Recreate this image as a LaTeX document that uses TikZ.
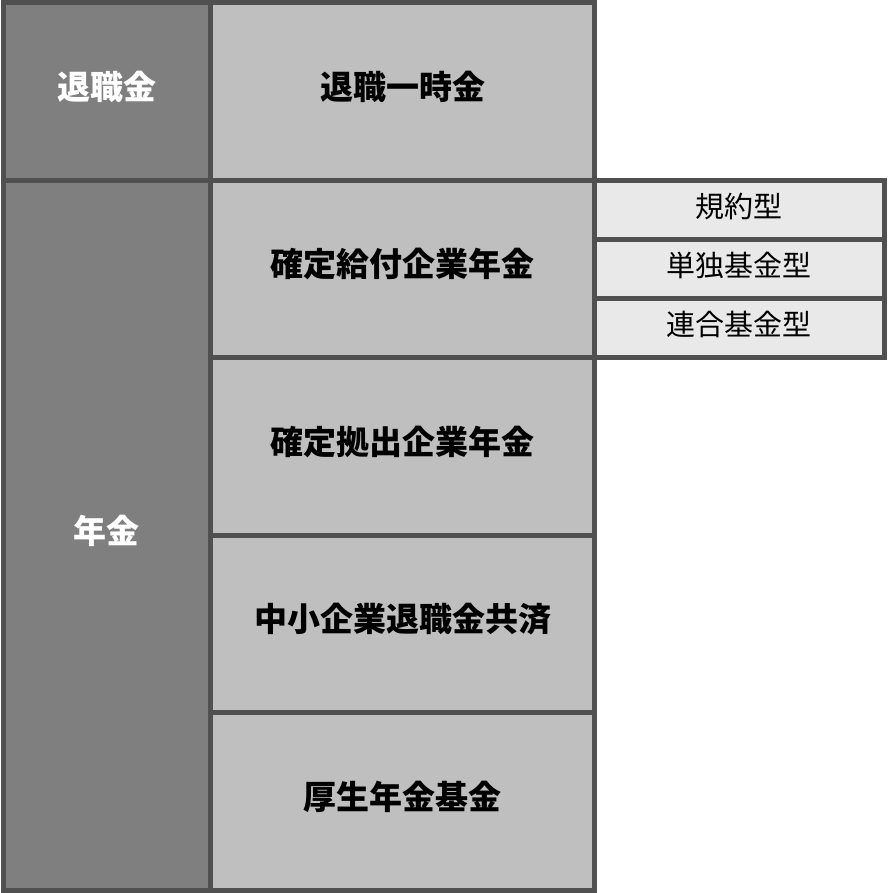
\documentclass[tikz,border=0pt]{standalone}
\usepackage{fontspec}
\usepackage{xcolor}
\usepackage{tikz}
\newfontfamily\jpfont{Noto Sans CJK JP}
\definecolor{edgegray}{HTML}{505050}
\definecolor{darkfill}{HTML}{7F7F7F}
\definecolor{midfill}{HTML}{BFBFBF}
\definecolor{lightfill}{HTML}{E9E9E9}

\begin{document}
\begin{tikzpicture}[x=1pt, y=-1pt,
    cell/.style={rectangle, draw=edgegray, line width=5pt, inner sep=0pt, outer sep=0pt, text height=15.5pt, text depth=0pt},
    kind/.style={cell, fill=darkfill, text=white, minimum width=207.5pt, font=\jpfont\bfseries\fontsize{33}{38}\selectfont},
    plan/.style={cell, fill=midfill, minimum width=384pt, minimum height=177.4pt, font=\jpfont\bfseries\fontsize{33}{38}\selectfont},
    sub/.style={cell, fill=lightfill, minimum width=289.5pt, minimum height=59pt, font=\jpfont\fontsize{29}{34}\selectfont}
]
    \useasboundingbox (0,0) rectangle (887,893);

    \node[sub] (kiyaku) at (739.25,210) {規約型};
    \node[sub] (tandoku) at (739.25,269) {単独基金型};
    \node[sub] (rengo) at (739.25,328) {連合基金型};

    \node[kind, minimum height=177.5pt] (taishoku) at (106.75,91.75) {退職金};
    \node[kind, minimum height=709.5pt] (nenkin) at (106.75,535.25) {年金};

    \node[plan, minimum height=177.5pt] (ichiji) at (402.5,91.75) {退職一時金};
    \node[plan] (db) at (402.5,269.2) {確定給付企業年金};
    \node[plan] (dc) at (402.5,446.6) {確定拠出企業年金};
    \node[plan] (chusho) at (402.5,624) {中小企業退職金共済};
    \node[plan] (kosei) at (402.5,801.4) {厚生年金基金};
\end{tikzpicture}
\end{document}
